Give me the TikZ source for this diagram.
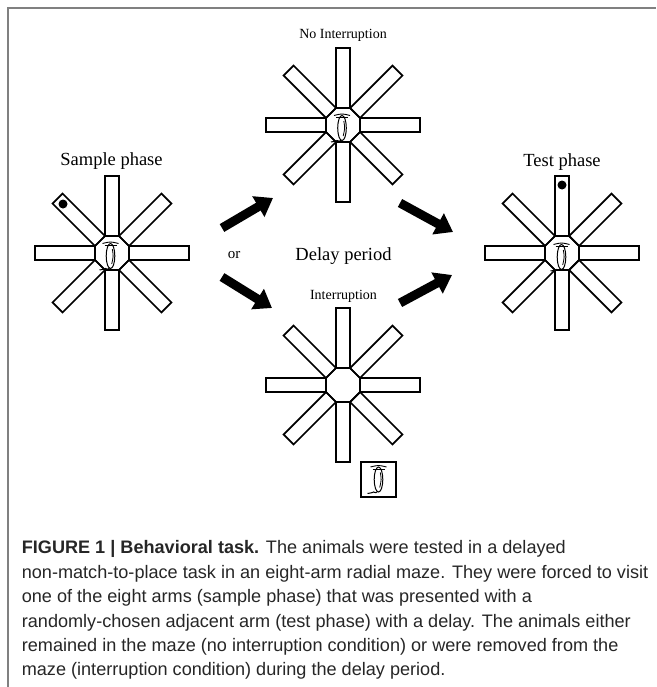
\documentclass[tikz,border=0pt]{standalone}
\usepackage{fontspec}
\setmainfont{Liberation Serif}
\newfontfamily\capfont{Liberation Sans}
\usetikzlibrary{arrows.meta}

\begin{document}
\begin{tikzpicture}[x=1pt,y=-1pt, line width=1.7pt,
  lbl/.style={anchor=base, inner sep=0pt, font=\fontsize{18.5}{20}\selectfont},
  smalllbl/.style={anchor=base, inner sep=0pt, font=\fontsize{14}{16}\selectfont},
  bigarrow/.style={line width=9pt, -{Triangle[width=23pt,length=17pt]}},
  maze/.pic={
    \foreach \a in {0,45,...,315}
      \draw[rotate=\a] (17,-7.04) rectangle (77,7.04);
    \draw (22.5:18.4) \foreach \a in {67.5,112.5,...,337.5} {-- (\a:18.4)} -- cycle;
  },
  rat/.pic={
    \draw[line width=1pt] (0,0) ellipse (4.3 and 12.5);
    \draw[line width=0.8pt] (1.8,-7) .. controls (3,0) .. (1.2,8);
    \draw[line width=0.9pt] (-8,-12.5) .. controls (0,-14.5) .. (8,-12.5);
    \draw[line width=0.9pt] (-6,-10.5) -- (6,-10.5);
    \draw[line width=1pt] (-1,12) .. controls (-3,15) and (-5,11) .. (-6,13)
      .. controls (-7,15) and (-9,12) .. (-11,14);
  }]
\useasboundingbox (0,0) rectangle (656,687);

% frame
\draw[gray, line width=1.5pt] (8,687) -- (8,8) -- (656,8);

% maze centres
\coordinate (sample) at (112,253);
\coordinate (noint) at (343,125);
\coordinate (test) at (562,253);
\coordinate (inter) at (343,385);

\pic at (sample) {maze};
\pic at (noint) {maze};
\pic at (test) {maze};
\pic at (inter) {maze};

% rats
\pic at (110.5,256) {rat};
\pic at (342,128) {rat};
\pic at (561.5,257) {rat};
\node (cage) at (378.5,479.5) [draw, minimum size=35pt, inner sep=0pt] {};
\pic at (cage) {rat};

% food
\node (food1) at (63,204) [circle, fill=black, inner sep=0pt, minimum size=9pt] {};
\node (food2) at (562,185) [circle, fill=black, inner sep=0pt, minimum size=9pt] {};

% labels
\node (ls) at (111.5,166) [lbl] {Sample phase};
\node (lt) at (562,167) [lbl] {Test phase};
\node (ln) at (343,39) [smalllbl] {No Interruption};
\node (li) at (343.5,299) [smalllbl] {Interruption};
\node (ld) at (343.5,260) [lbl] {Delay period};
\node (lo) at (234,258) [anchor=base, inner sep=0pt, font=\fontsize{15}{17}\selectfont] {or};

% arrows
\coordinate (ul0) at (222,228);
\coordinate (ul1) at (273,198);
\coordinate (ll0) at (222,277);
\coordinate (ll1) at (272,308);
\coordinate (ur0) at (400,203);
\coordinate (ur1) at (453,232);
\coordinate (lr0) at (400,303);
\coordinate (lr1) at (452,275);
\draw[bigarrow] (ul0) -- (ul1);
\draw[bigarrow] (ll0) -- (ll1);
\draw[bigarrow] (ur0) -- (ur1);
\draw[bigarrow] (lr0) -- (lr1);

% caption
\node (caption) at (21,540) [anchor=north west, inner sep=0pt, align=left,
  text=black!85, font=\capfont\fontsize{18.1}{24.4}\selectfont]
  {\textbf{FIGURE 1 | Behavioral task.} The animals were tested in a delayed\\
   non-match-to-place task in an eight-arm radial maze. They were forced to visit\\
   one of the eight arms (sample phase) that was presented with a\\
   randomly-chosen adjacent arm (test phase) with a delay. The animals either\\
   remained in the maze (no interruption condition) or were removed from the\\
   maze (interruption condition) during the delay period.};
\end{tikzpicture}
\end{document}
